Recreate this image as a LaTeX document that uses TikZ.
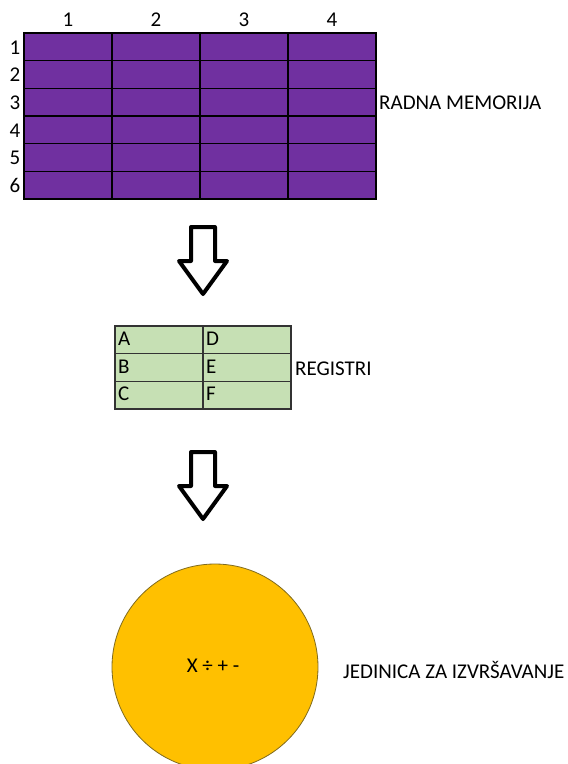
\documentclass[tikz,border=0pt]{standalone}
\usepackage{fontspec}
\setmainfont{Carlito}
\definecolor{mempurple}{HTML}{7030A0}
\definecolor{reggreen}{HTML}{C6E0B4}
\definecolor{exeorange}{HTML}{FFC000}
\definecolor{exeborder}{HTML}{7F6A1E}
\begin{document}
\begin{tikzpicture}[x=1pt,y=-1pt,
  lbl/.style={font=\fontsize{21}{24}\selectfont, inner sep=0pt, text=black},
  memcell/.style={draw=black, line width=1.3pt, fill=mempurple, minimum width=88pt, minimum height=27.67pt, inner sep=0pt, outer sep=0pt},
  regcell/.style={draw=black!80, line width=1.1pt, fill=reggreen, minimum width=88pt, minimum height=27.67pt, inner sep=0pt, outer sep=0pt},
  blockarrow/.style={draw=black, line width=4pt, line join=round, fill=white},
  exec/.style={circle, draw=exeborder, line width=0.8pt, fill=exeorange, minimum size=206pt, inner sep=0pt}]
\useasboundingbox (0,0) rectangle (568,764);
\clip (0,0) rectangle (568,764);
% working memory grid
\foreach \c in {1,...,4}{
  \foreach \r in {1,...,6}{
    \node[memcell] (m-\r-\c) at ({24+88*(\c-1)+44},{33+27.67*(\r-1)+13.83}) {};
  }
  \node[lbl] (col\c) at ({24+88*(\c-1)+44},20) {\c};
}
\foreach \r in {1,...,6}{
  \node[lbl] (row\r) at (15,{33+27.67*(\r-1)+14.5}) {\r};
}
\node[lbl, anchor=west] (memlabel) at (379,103) {RADNA MEMORIJA};
% arrow 1
\draw[blockarrow] (191,227) -- (215,227) -- (215,261) -- (227,261) -- (203,294) -- (179,261) -- (191,261) -- cycle;
% registers
\foreach \r/\a/\b in {1/A/D,2/B/E,3/C/F}{
  \node[regcell] (ra-\r) at (159,{326+27.67*(\r-1)+13.83}) {};
  \node[regcell] (rb-\r) at (247,{326+27.67*(\r-1)+13.83}) {};
  \node[lbl, anchor=west] (la-\r) at ([xshift=3pt,yshift=1pt]ra-\r.west) {\a};
  \node[lbl, anchor=west] (lb-\r) at ([xshift=3pt,yshift=1pt]rb-\r.west) {\b};
}
\node[lbl, anchor=west] (reglabel) at (295,369) {REGISTRI};
% arrow 2
\draw[blockarrow] (191,452) -- (215,452) -- (215,486) -- (227,486) -- (203,519) -- (179,486) -- (191,486) -- cycle;
% execution unit
\node[exec] (alu) at (215,667) {};
\node[lbl] (ops) at (213,666) {X ÷ + -};
\node[lbl, anchor=west] (exelabel) at (343,670) {JEDINICA ZA IZVRŠAVANJE};
\end{tikzpicture}
\end{document}
